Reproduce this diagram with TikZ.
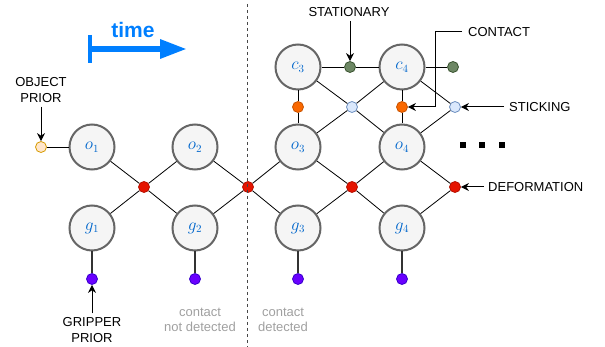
\documentclass[tikz,border=0pt]{standalone}
\usepackage{fontspec}
\setsansfont{Liberation Sans}
\usetikzlibrary{arrows.meta}

\definecolor{nodeFill}{HTML}{F5F5F5}
\definecolor{nodeLine}{HTML}{666666}
\definecolor{varBlue}{HTML}{0066CC}
\definecolor{timeBlue}{HTML}{007FFF}
\definecolor{deformRed}{HTML}{E51400}
\definecolor{contactOrange}{HTML}{FA6800}
\definecolor{stickFill}{HTML}{DAE8FC}
\definecolor{stickLine}{HTML}{6C8EBF}
\definecolor{statFill}{HTML}{6D8764}
\definecolor{statLine}{HTML}{3A5431}
\definecolor{gripFill}{HTML}{6A00FF}
\definecolor{gripLine}{HTML}{3700CC}
\definecolor{priorFill}{HTML}{FFE6CC}
\definecolor{priorLine}{HTML}{D79B00}
\definecolor{noteGray}{HTML}{A0A0A0}

\begin{document}
\begin{tikzpicture}
[x=1pt,y=-1pt,
  varDecorate/.style={shape=circle,minimum size=45pt,inner sep=0pt,draw=nodeLine,
    fill=nodeFill,line width=2pt,text=varBlue,font=\fontsize{16}{18}\selectfont},%
  factorDecorate/.style={shape=circle,minimum size=11pt,inner sep=0pt,line width=0.8pt},%
  deformFactor/.style={factorDecorate,fill=deformRed,draw=deformRed!80!black},%
  contactFactor/.style={factorDecorate,fill=contactOrange,draw=contactOrange!80!black},%
  stickFactor/.style={factorDecorate,fill=stickFill,draw=stickLine},%
  statFactor/.style={factorDecorate,fill=statFill,draw=statLine},%
  gripFactor/.style={factorDecorate,fill=gripFill,draw=gripLine},%
  priorFactor/.style={factorDecorate,fill=priorFill,draw=priorLine},%
  edgeLine/.style={line width=0.8pt},%
  labelArrow/.style={-{Stealth[length=8pt,width=8pt]},line width=1pt},%
  labelText/.style={font=\sffamily\fontsize{13}{15.5}\selectfont,align=center,inner sep=0pt},%
  noteText/.style={labelText,text=noteGray}]
\useasboundingbox (0,0) rectangle (605,347);
%% variable nodes
\foreach \letter/\idx/\x/\y in {o/1/92/147, o/2/195/147, o/3/298/147, o/4/402/147,
  g/1/92/228, g/2/195/228, g/3/298/228, g/4/402/228, c/3/298/67, c/4/402/67}
{
  \node (\letter\idx) at (\x,\y) [varDecorate] {$\letter_{\idx}$};
}
%% factor nodes
\foreach \nodename/\x/\y in {d1/144/187, d2/248/187, d3/352/187, d4/455/187}
{
  \node (\nodename) at (\x,\y) [deformFactor] {};
}
\foreach \nodename/\x/\y in {p1/92/279, p2/195/279, p3/298/279, p4/402/279}
{
  \node (\nodename) at (\x,\y) [gripFactor] {};
}
\node (k3) at (298,107) [contactFactor] {};
\node (k4) at (402,107) [contactFactor] {};
\node (s3) at (352,107) [stickFactor] {};
\node (s4) at (455,107) [stickFactor] {};
\node (t3) at (350,67) [statFactor] {};
\node (t4) at (453,67) [statFactor] {};
\node (op) at (41,147) [priorFactor] {};
%% edges
\path
\foreach \startnode/\endnode in {op/o1, o1/d1, o2/d1, g1/d1, g2/d1, o2/d2, o3/d2, g2/d2,
  g3/d2, o3/d3, o4/d3, g3/d3, g4/d3, o4/d4, g4/d4,
  c3/t3, t3/c4, c4/t4, c3/k3, k3/o3, c4/k4, k4/o4, c3/s3, s3/o4, c4/s3, s3/o3,
  c4/s4, o4/s4}
{
  (\startnode) edge[edgeLine] (\endnode)
}
\foreach \startnode/\endnode in {g1/p1, g2/p2, g3/p3, g4/p4}
{
  (\startnode) edge[edgeLine,line width=1.2pt,color=black!80] (\endnode)
};
%% time arrow and split
\coordinate (timeStart) at (90,49);
\coordinate (timeEnd) at (187,49);
\draw[timeBlue,line width=4pt] (90,35) -- (90,63);
\draw[timeBlue,line width=6pt,-{Triangle[length=27pt,width=18pt]}] (timeStart) -- (timeEnd);
\node (timeLabel) at (133,30) [text=timeBlue,font=\sffamily\bfseries\fontsize{21}{24}\selectfont] {time};
\coordinate (splitTop) at (247,4);
\coordinate (splitBottom) at (247,347);
\draw[dashed,line width=1pt,nodeLine!70!black] (splitTop) -- (splitBottom);
%% labels
\node (objLabel) at (41,90) [labelText] {OBJECT\\PRIOR};
\node (gripLabel) at (92,330) [labelText] {GRIPPER\\PRIOR};
\node (statLabel) at (349,12) [labelText] {STATIONARY};
\node (contactLabel) at (468,32) [labelText,anchor=west] {CONTACT};
\node (stickLabel) at (509,107) [labelText,anchor=west] {STICKING};
\node (deformLabel) at (488,187) [labelText,anchor=west] {DEFORMATION};
\node (noDetect) at (200,320) [noteText] {contact\\not detected};
\node (detect) at (283,320) [noteText] {contact\\detected};
\draw[labelArrow] (objLabel.south) ++(0,4) -- (op);
\draw[labelArrow] (gripLabel.north) ++(0,-4) -- (p1);
\draw[labelArrow] (statLabel.south) ++(1,4) -- (t3);
\draw[labelArrow] (contactLabel.west) ++(-6,0) -- ++(-27,0) |- (k4);
\draw[labelArrow] (stickLabel.west) ++(-5,0) -- (s4);
\draw[labelArrow] (deformLabel.west) ++(-4,0) -- (d4);
%% more steps
\foreach \x in {463,482,502}
{
  \fill (\x-3,142) rectangle (\x+3,148);
}
\end{tikzpicture}
\end{document}
